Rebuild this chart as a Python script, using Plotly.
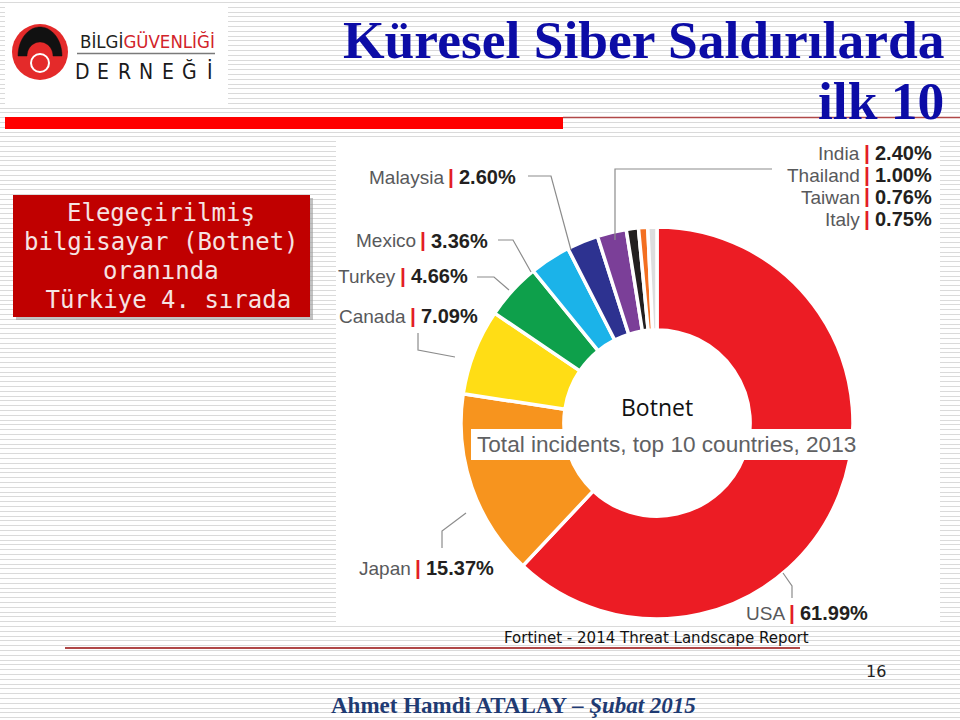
import plotly.graph_objects as go
import numpy as np

W, H = 960, 720

# ---------------- data ----------------
countries = ["USA", "Japan", "Canada", "Turkey", "Mexico", "Malaysia",
             "India", "Thailand", "Taiwan", "Italy"]
shares = [61.99, 15.37, 7.09, 4.66, 3.36, 2.60, 2.40, 1.00, 0.76, 0.75]
slice_colors = ["#EC1C24", "#F7941E", "#FFDD15", "#0EA04B", "#1BB3E9",
                "#2D3290", "#7B3F98", "#231F20", "#F36F21", "#DCDDDE"]

title_1 = "Küresel Siber Saldırılarda"
title_2 = "ilk 10"
box_lines = ["Elegeçirilmiş", "bilgisayar (Botnet)", "oranında", "\u00a0Türkiye 4. sırada"]
center_title = "Botnet"
center_sub = "Total incidents, top 10 countries, 2013"
source_text = "Fortinet - 2014 Threat Landscape Report"
page_no = "16"
author = "Ahmet Hamdi ATALAY – "
date_txt = "Şubat 2015"


def px(x):
    return x / W


def py(y):
    return 1 - y / H


fig = go.Figure()

# ---------------- donut ----------------
cx, cy, r = 657, 423, 196
fig.add_trace(go.Pie(
    labels=countries, values=shares, sort=False, direction="clockwise",
    rotation=0, hole=0.475, textinfo="none", showlegend=False,
    hoverinfo="label+percent",
    marker=dict(colors=slice_colors, line=dict(color="white", width=3.5)),
    domain=dict(x=[px(cx - r), px(cx + r)], y=[py(cy + r), py(cy - r)]),
))

shapes = []
annotations = []

# background stripes
for i in range(150):
    yy = round(2 + i * 4.8) + 0.5
    shapes.append(dict(type="line", xref="paper", yref="paper", layer="below",
                       x0=0, x1=1, y0=py(yy), y1=py(yy),
                       line=dict(color="#DADADA", width=1)))


def rect(x0, y0, x1, y1, fill, layer="below", line_color=None, opacity=1):
    shapes.append(dict(type="rect", xref="paper", yref="paper", layer=layer,
                       x0=px(x0), x1=px(x1), y0=py(y1), y1=py(y0),
                       fillcolor=fill, opacity=opacity,
                       line=dict(width=0 if line_color is None else 1,
                                 color=line_color or fill)))


def poly(points, color, width=1.2, layer="above", fill=None):
    d = "M " + " L ".join(f"{px(x):.5f},{py(y):.5f}" for x, y in points)
    if fill:
        d += " Z"
    shapes.append(dict(type="path", xref="paper", yref="paper", layer=layer,
                       path=d, fillcolor=fill,
                       line=dict(color=color, width=width)))


def text(x, y, s, size, color, family="Liberation Sans", xanchor="center",
         yanchor="middle"):
    annotations.append(dict(xref="paper", yref="paper", x=px(x), y=py(y),
                            text=s, showarrow=False, xanchor=xanchor,
                            yanchor=yanchor,
                            font=dict(size=size, color=color, family=family)))


# panels
rect(5, 5, 228, 104, "white")
rect(336, 139, 940, 626, "white")

# top red bar and thin line
rect(5, 117, 563, 129, "#FF0000")
shapes.append(dict(type="line", xref="paper", yref="paper", layer="below",
                   x0=px(563), x1=1, y0=py(117.5), y1=py(117.5),
                   line=dict(color="#B04848", width=1.5)))

# ---------------- logo ----------------
shapes.append(dict(type="circle", xref="paper", yref="paper", layer="below",
                   x0=px(12), x1=px(68), y0=py(80), y1=py(24),
                   fillcolor="#E42A2A", line=dict(width=0)))
t = np.linspace(np.pi, 0, 30)
outer = [(40 + 22 * np.cos(a), 56 - 29 * np.sin(a)) for a in t]
inner = [(40 + 13 * np.cos(a), 56 - 14 * np.sin(a)) for a in t[::-1]]
poly(outer + inner, "#111111", width=0.5, layer="below", fill="#111111")
shapes.append(dict(type="circle", xref="paper", yref="paper", layer="below",
                   x0=px(31), x1=px(49), y0=py(72), y1=py(54),
                   fillcolor="#E42A2A", line=dict(width=2, color="white")))
text(78, 41, "<span style='color:#231F20'>BİLGİ</span>"
             "<span style='color:#D2232A'>GÜVENLİĞİ</span>",
     18.5, "#231F20", family="Liberation Sans Narrow, DejaVu Sans Condensed",
     xanchor="left")
shapes.append(dict(type="line", xref="paper", yref="paper", layer="below",
                   x0=px(77), x1=px(215), y0=py(53.5), y1=py(53.5),
                   line=dict(color="#7A7A7A", width=1.5)))
for i, ch in enumerate("DERNEĞİ"):
    text(82 + 21.4 * i, 72, ch, 21, "#1A1A1A",
         family="Liberation Sans Narrow, DejaVu Sans Condensed")

# ---------------- title ----------------
text(946, 40, "<b>" + title_1 + "</b>", 53.5, "#0C0CA6",
     family="Liberation Serif", xanchor="right")
text(946, 101, "<b>" + title_2 + "</b>", 53.5, "#0C0CA6",
     family="Liberation Serif", xanchor="right")

# ---------------- red info box ----------------
rect(16, 198, 313, 320, "#9A9A9A", opacity=0.6)
rect(13, 195, 310, 317, "#C00000")
for i, s in enumerate(box_lines):
    text(161, 213 + 29 * i, s, 24, "#F6E3E3", family="DejaVu Sans Mono")

# ---------------- donut labels ----------------
label_pos = {
    "Malaysia": (451, 177), "Mexico": (423, 241), "Turkey": (403, 276),
    "Canada": (413, 316), "Japan": (418, 568), "USA": (792, 613),
    "India": (867, 153), "Thailand": (867, 175), "Taiwan": (867, 197),
    "Italy": (867, 219),
}
for name, val in zip(countries, shares):
    bx, by = label_pos[name]
    text(bx - 5, by, name, 19, "#58595B", xanchor="right")
    text(bx, by - 1, "<b>|</b>", 21, "#E31E26")
    text(bx + 6, by, f"<b>{val:.2f}%</b>", 20, "#231F20", xanchor="left")

leaders = [
    [(528, 176), (551, 176), (571, 250)],
    [(498, 240), (513, 240), (531, 272)],
    [(477, 277), (494, 277), (509, 290)],
    [(418, 333), (418, 350), (455, 357)],
    [(442, 548), (442, 531), (466, 513)],
    [(792, 598), (792, 586), (783, 573)],
    [(772, 169), (615, 169), (615, 240)],
]
for pts in leaders:
    poly(pts, "#8C8C8C", width=1.2)

# centre texts
text(657, 407, center_title, 23, "#111111", family="Open Sans")
rect(471, 429, 860, 460, "white", layer="above")
text(666, 444, center_sub, 22.6, "#606163")

# ---------------- footer ----------------
text(656, 638, source_text, 15, "#111111", family="DejaVu Sans")
shapes.append(dict(type="line", xref="paper", yref="paper", layer="below",
                   x0=px(65), x1=px(800), y0=py(648), y1=py(648),
                   line=dict(color="#B04848", width=2)))
text(876, 671, page_no, 16, "#222222", family="DejaVu Sans")
text(513, 705, f"<b>{author}<i>{date_txt}</i></b>", 23, "#1F3B73",
     family="Liberation Serif")

fig.update_layout(
    width=W, height=H, margin=dict(l=0, r=0, t=0, b=0),
    paper_bgcolor="white", plot_bgcolor="white",
    shapes=shapes, annotations=annotations,
    xaxis=dict(visible=False), yaxis=dict(visible=False),
)
fig.write_html("out.html")
